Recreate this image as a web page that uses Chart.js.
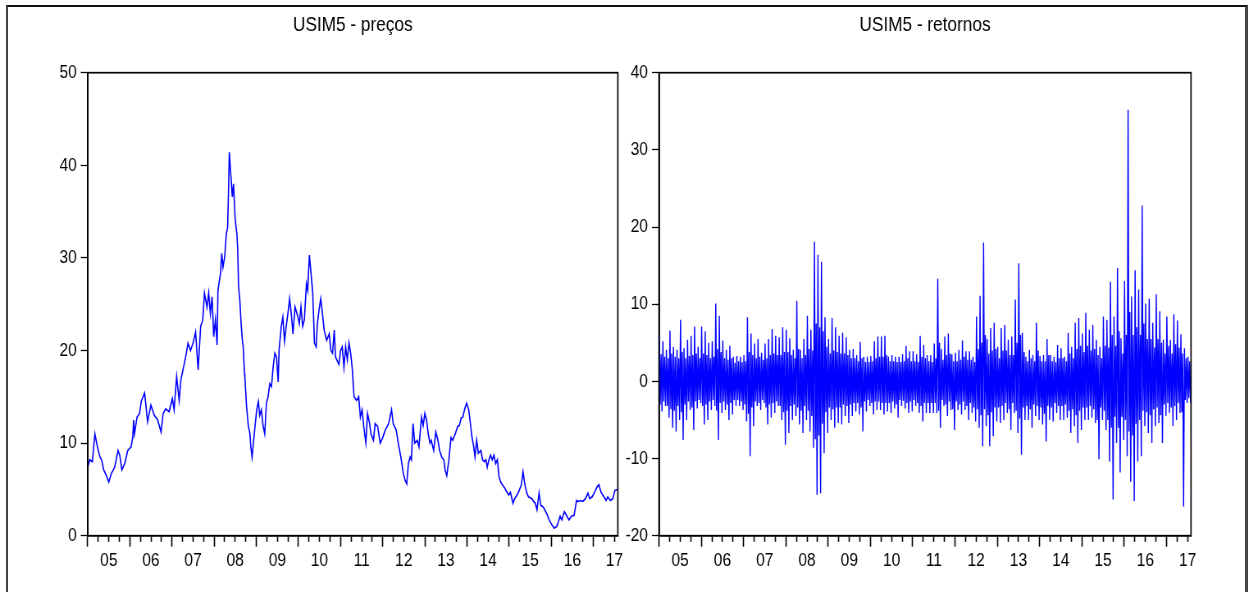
<!DOCTYPE html>
<html>
<head>
<meta charset="utf-8">
<script src="https://cdn.jsdelivr.net/npm/chart.js@4.4.1/dist/chart.umd.min.js"></script>
<style>
  html, body { margin: 0; padding: 0; background: #fff; }
  body { width: 1248px; height: 592px; position: relative; overflow: hidden; }
  #frame { position: absolute; left: 6px; top: 5px; width: 1242px; height: 620px; box-sizing: border-box;
           border-top: 2px solid #111; border-left: 2px solid #444; border-right: 3px solid #444; }
  canvas { position: absolute; top: 0; transform-origin: 0 0; }
</style>
</head>
<body>
<div id="frame"></div>
<canvas id="pricesCanvas"></canvas>
<canvas id="returnsCanvas"></canvas>
<script>
// ---- USIM5 closing prices (decimal year, R$) ----
const priceDates = [
  2005.00,2005.05,2005.11,2005.17,2005.23,2005.29,2005.33,2005.38,2005.45,2005.50,2005.56,2005.64,2005.72,2005.76,2005.81,2005.88,2005.95,
  2006.03,2006.07,2006.09,2006.11,2006.17,2006.23,2006.27,2006.35,2006.39,2006.42,2006.50,2006.58,2006.66,2006.74,2006.79,2006.85,2006.93,
  2007.01,2007.05,2007.11,2007.17,2007.21,2007.26,2007.32,2007.38,2007.44,2007.50,2007.56,2007.62,2007.68,2007.73,2007.77,2007.83,2007.87,2007.91,2007.95,2007.99,
  2008.03,2008.07,2008.09,2008.15,2008.18,2008.21,2008.25,2008.29,2008.32,2008.34,2008.36,2008.40,2008.43,2008.46,2008.50,2008.54,2008.56,2008.58,2008.61,2008.64,2008.67,2008.69,2008.72,2008.73,2008.77,2008.81,2008.85,2008.87,2008.90,2008.93,2008.97,
  2009.01,2009.05,2009.08,2009.12,2009.16,2009.20,2009.24,2009.28,2009.32,2009.36,2009.40,2009.44,2009.48,2009.52,2009.54,2009.59,2009.63,2009.67,2009.71,2009.77,2009.79,2009.83,2009.87,2009.92,2009.99,
  2010.02,2010.06,2010.10,2010.14,2010.19,2010.22,2010.26,2010.30,2010.34,2010.38,2010.42,2010.45,2010.49,2010.53,2010.57,2010.61,2010.67,2010.73,2010.77,2010.81,2010.85,2010.88,2010.96,
  2011.00,2011.04,2011.08,2011.12,2011.16,2011.20,2011.24,2011.28,2011.32,2011.38,2011.43,2011.47,2011.51,2011.55,2011.60,2011.64,2011.69,2011.72,2011.78,2011.82,2011.88,2011.94,
  2012.00,2012.06,2012.14,2012.21,2012.25,2012.32,2012.37,2012.43,2012.49,2012.53,2012.57,2012.61,2012.65,2012.68,2012.72,2012.76,2012.82,2012.86,2012.92,2012.96,
  2013.00,2013.04,2013.08,2013.12,2013.15,2013.21,2013.26,2013.31,2013.35,2013.40,2013.45,2013.48,2013.52,2013.57,2013.62,2013.66,2013.72,2013.78,2013.82,2013.86,2013.90,2013.94,2013.99,
  2014.04,2014.07,2014.12,2014.16,2014.19,2014.23,2014.27,2014.33,2014.37,2014.41,2014.45,2014.48,2014.52,2014.56,2014.60,2014.64,2014.68,2014.72,2014.76,2014.80,2014.84,2014.90,2014.95,2014.99,
  2015.03,2015.09,2015.13,2015.19,2015.24,2015.29,2015.33,2015.37,2015.42,2015.46,2015.54,2015.58,2015.62,2015.66,2015.71,2015.75,2015.81,2015.89,2015.95,
  2016.01,2016.07,2016.13,2016.17,2016.21,2016.25,2016.31,2016.36,2016.42,2016.48,2016.54,2016.60,2016.64,2016.70,2016.75,2016.81,2016.87,2016.91,2016.97,
  2017.03,2017.09,2017.13,2017.18,2017.25,2017.30,2017.34,2017.40,2017.46,2017.51,2017.58
];
const priceValues = [
  7.4,8.2,8.0,11.0,9.6,8.5,8.2,7.1,6.4,5.8,6.7,7.4,9.2,8.7,7.1,7.8,9.2,
  9.6,10.7,12.5,11.0,12.8,13.2,14.5,15.4,13.7,12.3,14.1,13.0,12.5,11.2,13.2,13.7,13.4,
  14.8,13.6,17.2,14.6,16.8,17.9,19.2,20.8,20.0,20.8,22.0,17.9,22.6,23.3,26.2,24.7,26.2,24.0,25.8,21.5,
  23.3,20.6,26.5,28.3,30.5,29.0,30.1,32.6,33.3,36.9,41.4,38.7,36.6,38.0,34.1,32.6,30.8,26.9,25.4,22.9,21.1,20.4,17.5,17.0,13.9,11.9,11.0,9.6,8.5,10.0,11.8,
  13.6,14.5,13.0,13.6,11.9,11.0,14.3,15.0,16.4,16.1,18.2,19.7,19.3,16.6,20.0,22.5,23.6,21.0,22.6,24.7,25.6,24.0,21.8,24.7,23.6,
  22.9,24.7,22.6,23.3,27.2,26.5,30.3,28.3,26.2,20.8,20.4,22.9,24.4,25.6,24.0,22.2,21.1,21.8,20.0,19.7,22.2,19.3,18.5,
  20.0,20.4,18.2,20.4,19.0,20.8,19.7,17.9,15.0,14.6,15.0,12.8,13.6,11.8,10.0,13.2,12.1,11.0,10.3,12.1,11.8,10.0,
  10.6,11.4,12.1,13.6,12.1,11.4,10.0,8.5,6.7,6.0,5.6,7.8,8.5,8.2,12.1,10.0,10.3,9.6,12.8,11.9,
  13.2,12.5,11.0,10.0,10.3,9.2,11.2,10.3,9.2,8.5,8.2,7.1,6.5,8.2,10.6,10.3,11.0,11.8,11.9,12.7,12.8,13.6,14.3,
  13.6,12.5,10.6,9.6,8.5,10.3,8.9,9.2,8.2,8.0,8.2,7.4,8.2,8.7,8.2,8.7,7.8,8.2,6.4,5.8,5.5,5.1,4.7,4.4,
  4.7,3.5,4.0,4.4,4.9,5.5,6.9,5.6,4.6,4.2,4.0,3.7,3.5,2.8,4.6,3.3,3.1,2.4,1.7,
  1.2,0.8,1.0,1.5,2.1,1.7,2.6,2.2,1.7,2.1,2.2,3.8,3.7,3.8,3.7,4.0,4.6,4.0,4.2,
  4.7,5.3,5.5,4.7,4.2,3.8,4.2,3.8,4.0,4.9,5.0
];

// ---- USIM5 daily returns (%), summarised month by month, Jan/2005 .. Jul/2017 ----
const retStartYear = 2005;
// largest daily gain of the month
const retHigh = [
  5.9, 5.2, 4.1, 6.6, 4.5, 4.1, 8.0, 4.3, 5.4, 5.9, 7.1, 4.5,
  7.1, 6.5, 5.0, 5.2, 10.1, 8.5, 5.3, 4.1, 4.6, 3.2, 3.3, 3.2,
  3.4, 8.3, 6.2, 4.9, 5.5, 3.7, 4.9, 5.5, 6.8, 5.9, 5.7, 7.0,
  6.7, 5.6, 4.1, 10.4, 4.1, 5.5, 8.5, 6.7, 18.1, 16.4, 15.5, 8.3,
  5.5, 8.2, 7.0, 5.9, 6.3, 5.7, 4.1, 4.2, 3.4, 5.1, 3.2, 3.2,
  3.3, 5.2, 5.8, 5.8, 5.9, 3.2, 3.4, 3.2, 3.2, 3.5, 4.6, 3.9,
  3.9, 3.5, 5.9, 4.7, 3.4, 3.4, 4.9, 13.3, 4.2, 5.8, 6.2, 3.5,
  3.7, 4.1, 5.3, 3.9, 3.9, 3.2, 8.4, 11.1, 18.0, 5.5, 6.9, 7.6,
  4.5, 6.9, 7.3, 5.4, 5.8, 10.6, 15.3, 6.3, 3.2, 4.1, 3.4, 7.6,
  3.3, 3.4, 5.5, 3.4, 3.2, 4.7, 4.3, 3.2, 6.3, 4.5, 7.6, 8.2,
  6.2, 8.9, 6.7, 7.3, 5.4, 4.5, 8.4, 8.0, 12.9, 8.4, 14.7, 5.6,
  13.0, 35.2, 11.0, 14.4, 11.9, 22.8, 10.1, 10.7, 7.6, 11.3, 9.1, 5.4,
  8.4, 5.4, 8.7, 7.9, 6.1, 4.3, 3.2
];
// largest daily loss of the month
const retLow = [
  -3.9, -3.2, -4.7, -6.0, -6.5, -5.0, -7.6, -5.0, -3.7, -6.3, -3.5, -2.8,
  -5.6, -5.0, -3.7, -3.2, -7.6, -4.1, -3.7, -5.0, -4.3, -3.2, -3.2, -3.7,
  -5.2, -9.7, -5.8, -3.2, -3.7, -2.8, -5.6, -4.7, -4.1, -3.2, -5.0, -8.2,
  -6.7, -5.0, -4.5, -5.6, -6.7, -5.0, -6.5, -8.6, -14.7, -14.5, -9.3, -6.7,
  -5.0, -6.0, -5.4, -5.6, -4.5, -5.4, -4.5, -3.9, -4.3, -6.5, -3.9, -3.2,
  -4.3, -3.7, -3.7, -4.3, -3.9, -4.1, -3.5, -4.7, -3.2, -3.5, -4.1, -3.9,
  -3.2, -4.1, -5.2, -4.1, -4.1, -4.1, -4.1, -6.0, -3.2, -4.5, -3.7, -6.3,
  -3.7, -4.3, -3.7, -5.0, -4.1, -5.2, -6.0, -8.4, -5.8, -8.4, -7.1, -5.2,
  -5.4, -5.0, -4.1, -6.3, -4.1, -6.7, -9.5, -5.0, -5.0, -6.0, -4.5, -5.0,
  -5.6, -7.8, -5.0, -5.2, -4.1, -5.0, -5.0, -4.7, -6.7, -5.8, -8.0, -6.3,
  -5.0, -5.0, -4.7, -5.4, -10.1, -5.0, -6.3, -10.4, -15.3, -8.0, -11.8, -7.6,
  -9.7, -13.0, -15.5, -10.4, -9.7, -5.8, -6.7, -8.0, -5.8, -5.4, -8.0, -4.5,
  -4.1, -5.8, -5.0, -4.1, -16.2, -2.8, -2.8
];
// usual upper reach of the daily moves in the month
const retBandHigh = [
  3.5, 3.2, 3.0, 3.6, 3.2, 3.0, 3.8, 3.0, 3.3, 3.4, 3.6, 3.0,
  3.6, 3.4, 3.0, 3.2, 4.2, 3.8, 3.0, 2.8, 3.0, 2.4, 2.6, 2.5,
  2.6, 3.8, 3.4, 3.0, 3.2, 2.8, 3.0, 3.4, 3.6, 3.4, 3.4, 3.8,
  3.8, 3.4, 3.0, 4.2, 3.0, 3.4, 4.2, 4.0, 7.5, 7.0, 6.5, 4.5,
  3.6, 4.0, 3.8, 3.6, 3.6, 3.4, 3.0, 3.0, 2.6, 3.0, 2.5, 2.5,
  2.6, 3.0, 3.2, 3.2, 3.4, 2.6, 2.6, 2.5, 2.5, 2.6, 3.0, 2.6,
  2.6, 2.5, 3.2, 3.0, 2.6, 2.5, 3.0, 5.0, 2.8, 3.4, 3.6, 2.6,
  2.6, 2.8, 3.2, 2.8, 2.8, 2.5, 4.2, 5.0, 6.0, 3.6, 4.0, 4.2,
  3.0, 4.0, 4.0, 3.4, 3.4, 5.0, 6.0, 3.8, 2.6, 3.0, 2.6, 4.0,
  2.6, 2.6, 3.4, 2.6, 2.5, 3.0, 3.0, 2.6, 3.6, 3.0, 4.2, 4.6,
  3.8, 4.6, 4.0, 4.2, 3.4, 3.0, 4.6, 4.4, 6.0, 4.6, 6.5, 3.6,
  6.0, 9.0, 6.0, 7.0, 6.0, 7.5, 5.5, 5.5, 4.4, 5.5, 5.0, 3.6,
  4.6, 3.6, 4.8, 4.4, 3.6, 3.0, 2.6
];
// usual lower reach of the daily moves in the month
const retBandLow = [
  -3.0, -2.6, -3.2, -3.6, -3.8, -3.2, -4.0, -3.0, -2.6, -3.4, -2.6, -2.4,
  -3.2, -3.0, -2.6, -2.4, -3.8, -2.8, -2.6, -3.0, -2.8, -2.4, -2.4, -2.6,
  -3.0, -4.2, -3.4, -2.6, -2.8, -2.4, -3.4, -3.0, -2.8, -2.6, -3.2, -4.0,
  -3.8, -3.2, -3.0, -3.4, -3.8, -3.2, -3.8, -4.5, -7.5, -7.0, -5.5, -4.0,
  -3.4, -3.6, -3.4, -3.4, -3.0, -3.2, -3.0, -2.8, -2.8, -3.4, -2.6, -2.4,
  -2.8, -2.6, -2.6, -2.8, -2.8, -2.8, -2.6, -3.0, -2.4, -2.5, -2.8, -2.6,
  -2.4, -2.8, -3.2, -2.8, -2.8, -2.8, -2.8, -3.8, -2.4, -3.0, -2.6, -3.6,
  -2.6, -3.0, -2.6, -3.2, -2.8, -3.4, -3.6, -4.4, -3.6, -4.4, -4.0, -3.4,
  -3.4, -3.2, -2.8, -3.6, -2.8, -3.8, -4.8, -3.4, -3.2, -3.6, -3.0, -3.2,
  -3.4, -4.2, -3.2, -3.4, -2.8, -3.2, -3.2, -3.0, -3.8, -3.6, -4.4, -3.8,
  -3.4, -3.4, -3.2, -3.6, -5.0, -3.4, -3.8, -5.0, -6.0, -4.6, -6.0, -4.6,
  -5.0, -6.5, -7.0, -5.5, -5.0, -3.8, -4.0, -4.4, -3.6, -3.4, -4.4, -3.0,
  -2.8, -3.4, -3.2, -2.8, -4.0, -2.4, -2.2
];

// ---- axes ----
const xStart = 2005, xEnd = 2017.58;
const priceTicks = [0, 10, 20, 30, 40, 50];
const returnTicks = [-20, -10, 0, 10, 20, 30, 40];
const quarterTicks = [];
for (let q = xStart * 4; q / 4 <= xEnd; q++) quarterTicks.push(q / 4);

// the canvases are drawn wide and squeezed horizontally, giving the narrow lettering of the original panels
const SQUEEZE = 0.82;
const FONT = "'Liberation Sans', Arial, sans-serif";

const priceData = priceDates.map((d, i) => ({ x: d, y: priceValues[i] }));
const returnData = [];
retHigh.forEach((hi, m) => {
  const t = retStartYear + m / 12;
  returnData.push({ x: t + 0.10 / 12, y: hi });
  returnData.push({ x: t + 0.35 / 12, y: retBandLow[m] });
  returnData.push({ x: t + 0.60 / 12, y: retBandHigh[m] });
  returnData.push({ x: t + 0.85 / 12, y: retLow[m] });
});

const isWhole = v => Math.abs(v - Math.round(v)) < 1e-6;
const isMid = v => Math.abs(v - Math.floor(v) - 0.5) < 1e-6;

// closes the plot frame on all four sides
const plotBox = {
  id: 'plotBox',
  afterDatasetsDraw(chart) {
    const { ctx, chartArea: a } = chart;
    ctx.save();
    ctx.strokeStyle = '#000';
    ctx.lineWidth = 1.7;
    ctx.strokeRect(a.left, a.top, a.right - a.left, a.bottom - a.top);
    ctx.restore();
  }
};

// panel: page x of the canvas, its page width, page x of the plot's left and right edges
function buildChart(canvasId, pageLeft, pageWidth, plotLeft, plotRight, data, yTicks, title, lineWidth) {
  const canvas = document.getElementById(canvasId);
  const w = Math.round(pageWidth / SQUEEZE);
  canvas.width = w;
  canvas.height = 592;
  canvas.style.left = pageLeft + 'px';
  canvas.style.transform = 'scaleX(' + SQUEEZE + ')';
  const yWidth = (plotLeft - pageLeft) / SQUEEZE;
  const padRight = w - (plotRight - pageLeft) / SQUEEZE;

  return new Chart(canvas, {
    type: 'line',
    data: { datasets: [{ data, borderColor: '#0000ff', borderWidth: lineWidth, pointRadius: 0, tension: 0, fill: false }] },
    options: {
      responsive: false,
      animation: false,
      events: [],
      layout: { padding: { top: 2, right: padRight, bottom: 0, left: 0 } },
      plugins: {
        legend: { display: false },
        tooltip: { enabled: false },
        title: {
          display: true, text: title, fullSize: false, color: '#000',
          font: { family: FONT, size: 21, weight: 'normal' },
          padding: { top: 10.4, bottom: 35.1 }
        }
      },
      scales: {
        x: {
          type: 'linear', min: xStart, max: xEnd,
          afterBuildTicks: s => { s.ticks = quarterTicks.map(v => ({ value: v })); },
          afterFit: s => { s.height = 56.3; },
          ticks: {
            autoSkip: false, maxRotation: 0, padding: 3, color: '#000',
            font: { family: FONT, size: 19 },
            callback: v => isMid(v) ? String(Math.floor(v) % 100).padStart(2, '0') : ''
          },
          grid: {
            drawOnChartArea: false, tickLength: 11, tickColor: '#000', tickWidth: 1.6,
            tickBorderDash: ctx => (ctx.tick && isWhole(ctx.tick.value)) ? [] : [5.3, 30]
          },
          border: { display: true, color: '#000', width: 1.5 }
        },
        y: {
          type: 'linear', min: yTicks[0], max: yTicks[yTicks.length - 1],
          afterBuildTicks: s => { s.ticks = yTicks.map(v => ({ value: v })); },
          afterFit: s => { s.width = yWidth; },
          ticks: { padding: 4.9, color: '#000', font: { family: FONT, size: 19 } },
          grid: { drawOnChartArea: false, tickLength: 8.5, tickColor: '#000', tickWidth: 1.3 },
          border: { display: true, color: '#000', width: 1.8 }
        }
      }
    },
    plugins: [plotBox]
  });
}

buildChart('pricesCanvas', 0, 626, 87.7, 624.3, priceData, priceTicks, 'USIM5 - preços', 1.6);
buildChart('returnsCanvas', 620, 628, 659, 1191, returnData, returnTicks, 'USIM5 - retornos', 1.4);
</script>
</body>
</html>
